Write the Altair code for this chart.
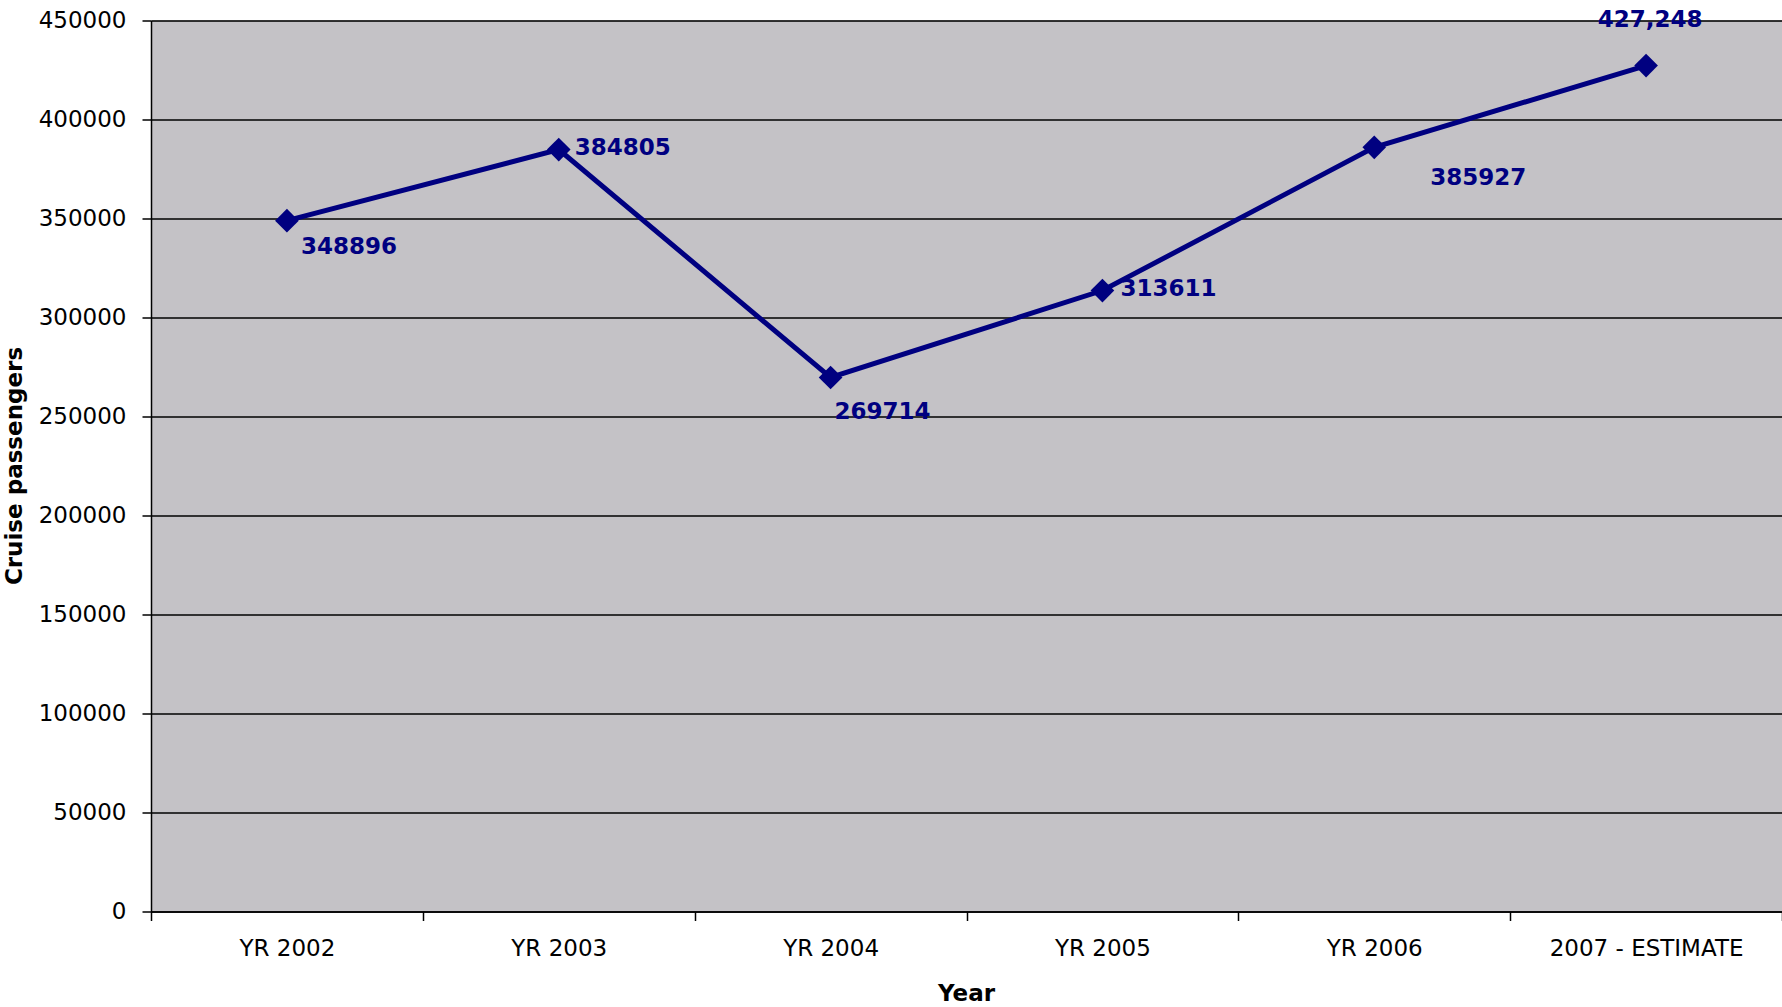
import altair as alt
import pandas as pd

categories = ["YR 2002", "YR 2003", "YR 2004", "YR 2005", "YR 2006", "2007 - ESTIMATE"]
passengers = [348896, 384805, 269714, 313611, 385927, 427248]
value_labels = ["348896", "384805", "269714", "313611", "385927", "427,248"]
y_ticks = [0, 50000, 100000, 150000, 200000, 250000, 300000, 350000, 400000, 450000]

df = pd.DataFrame({"Year": categories, "Passengers": passengers, "Label": value_labels})

NAVY = "#000080"
FONT = "DejaVu Sans"

x_enc = alt.X(
    "Year:N",
    sort=categories,
    scale=alt.Scale(type="band", paddingInner=0, paddingOuter=0),
    axis=alt.Axis(
        title="Year",
        labelAngle=0,
        labelLimit=0,
        tickBand="extent",
        grid=False,
        labelBaseline="middle",
        labelPadding=28,
        titleX=815,
        titleY=82,
        titleBaseline="middle",
    ),
)
y_enc = alt.Y(
    "Passengers:Q",
    scale=alt.Scale(domain=[0, 450000], nice=False),
    axis=alt.Axis(
        title="Cruise passengers",
        values=y_ticks,
        format="d",
        grid=True,
        labelPadding=16,
        titleX=-137,
        titleY=445,
        titleAngle=-90,
        titleBaseline="middle",
        titleAlign="center",
    ),
)

base = alt.Chart(df)

line = base.mark_line(color=NAVY, strokeWidth=5).encode(x=x_enc, y=y_enc)
points = base.mark_point(shape="diamond", filled=True, color=NAVY, size=560, opacity=1).encode(x=x_enc, y=y_enc)

label_style = {
    "YR 2002": dict(dx=14, dy=26, align="left"),
    "YR 2003": dict(dx=16, dy=-2, align="left"),
    "YR 2004": dict(dx=4, dy=35, align="left"),
    "YR 2005": dict(dx=18, dy=-2, align="left"),
    "YR 2006": dict(dx=56, dy=31, align="left"),
    "2007 - ESTIMATE": dict(dx=4, dy=-46, align="center"),
}

label_layers = []
for cat in categories:
    st = label_style[cat]
    label_layers.append(
        base.transform_filter(alt.datum.Year == cat)
        .mark_text(
            color=NAVY,
            font=FONT,
            fontSize=23,
            fontWeight="bold",
            baseline="middle",
            **st,
        )
        .encode(x=x_enc, y=y_enc, text="Label:N")
    )

chart = (
    alt.layer(line, points, *label_layers)
    .properties(
        width=1631,
        height=891,
        autosize=alt.AutoSizeParams(type="none"),
        padding={"left": 151, "top": 20.5, "right": 0, "bottom": 95.5},
        background="white",
    )
    .configure_view(fill="#C4C2C6", stroke="#9A9A9A", strokeWidth=1)
    .configure_axis(
        labelFont=FONT,
        labelFontSize=23,
        labelColor="#000000",
        titleFont=FONT,
        titleFontSize=23,
        titleFontWeight="bold",
        titleColor="#000000",
        tickColor="#000000",
        tickSize=9,
        tickWidth=1.5,
        domainColor="#000000",
        domainWidth=1.5,
        gridColor="#000000",
        gridWidth=1.5,
        gridOpacity=1,
    )
)

chart.save("out.html", embed_options={"renderer": "svg", "actions": False})
